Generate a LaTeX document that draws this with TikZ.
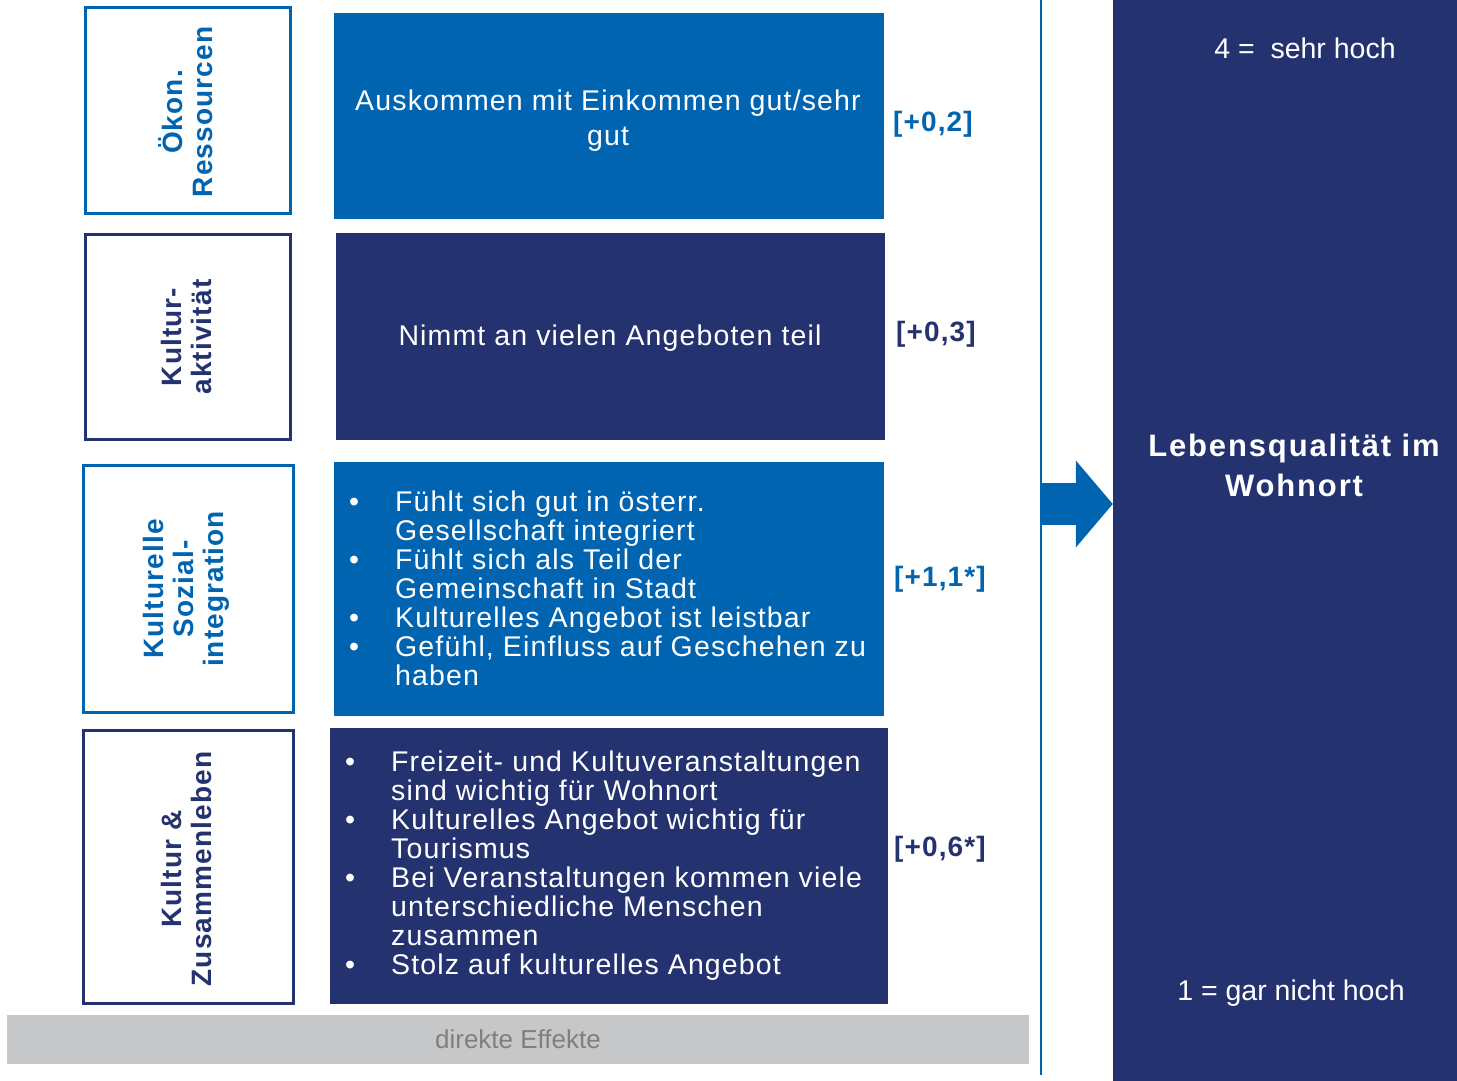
\documentclass[tikz,border=0pt]{standalone}
\usepackage{fontspec}
\setmainfont{Liberation Sans}[LetterSpace=4]
\newfontfamily\plainfont{Liberation Sans}
\usepackage{tikz}
\definecolor{mb}{RGB}{0, 100, 176}
\definecolor{nv}{RGB}{36, 51, 111}
\definecolor{gb}{RGB}{198, 199, 201}
\definecolor{gt}{RGB}{127, 127, 127}
\usetikzlibrary{arrows.meta}
\newcommand{\bul}{\makebox[46pt][l]{•}}
\newcommand{\ind}{\hspace*{46pt}}

\begin{document}
\begin{tikzpicture}[
  every node/.style={inner sep=0pt},
  frame/.style={rectangle, line width=3pt, fill=white},
  block/.style={rectangle, text=white, align=center, font=\fontsize{28.5pt}{35pt}\selectfont},
  vlabel/.style={rotate=90, align=center, font=\fontsize{28pt}{30pt}\selectfont\bfseries},
  effect/.style={font=\fontsize{28pt}{30pt}\selectfont\bfseries},
  items/.style={anchor=west, align=left, text=white, font=\fontsize{28.5pt}{29pt}\selectfont},
  side/.style={text=white, align=center, font=\plainfont\fontsize{28.5pt}{30pt}\selectfont}]
\useasboundingbox (0pt,0pt) rectangle (1457pt,-1081pt);
% left frames
\node (f1) [frame, draw=mb, minimum width=205pt, minimum height=206pt] at (188pt, -110.5pt) {};
\node (f2) [frame, draw=nv, minimum width=205pt, minimum height=205pt] at (188pt, -337pt) {};
\node (f3) [frame, draw=mb, minimum width=210pt, minimum height=247pt] at (188.5pt, -589pt) {};
\node (f4) [frame, draw=nv, minimum width=210pt, minimum height=273pt] at (188.5pt, -867pt) {};
\node (l1) [vlabel, text=mb] at (186pt, -112pt) {Ökon.\\Ressourcen};
\node (l2) [vlabel, text=nv] at (186pt, -337pt) {Kultur-\\aktivität};
\node (l3) [vlabel, text=mb] at (186pt, -589pt) {Kulturelle\\Sozial-\\integration};
\node (l4) [vlabel, text=nv] at (186pt, -869pt) {Kultur \&\\Zusammenleben};
% middle blocks
\node (m1) [block, fill=mb, minimum width=550pt, minimum height=206pt] at (609pt, -116pt) {};
\node (m2) [block, fill=nv, minimum width=549pt, minimum height=207pt] at (610.5pt, -336.5pt) {};
\node (m3) [block, fill=mb, minimum width=550pt, minimum height=254pt] at (609pt, -589pt) {};
\node (m4) [block, fill=nv, minimum width=558pt, minimum height=276pt] at (609pt, -866pt) {};
\node (t1) [block] at (608pt, -121pt) {Auskommen mit Einkommen gut/sehr\\gut};
\node (t2) [block] at (610pt, -338pt) {Nimmt an vielen Angeboten teil};
\node (t3) [items] at (349pt, -588pt) {\bul Fühlt sich gut in österr.\\
\ind Gesellschaft integriert\\
\bul Fühlt sich als Teil der\\
\ind Gemeinschaft in Stadt\\
\bul Kulturelles Angebot ist leistbar\\
\bul Gefühl, Einfluss auf Geschehen zu\\
\ind haben};
\node (t4) [items] at (345pt, -866pt) {\bul Freizeit- und Kultuveranstaltungen\\
\ind sind wichtig für Wohnort\\
\bul Kulturelles Angebot wichtig für\\
\ind Tourismus\\
\bul Bei Veranstaltungen kommen viele\\
\ind unterschiedliche Menschen\\
\ind zusammen\\
\bul Stolz auf kulturelles Angebot};
% effect sizes
\node (e1) [effect, text=mb] at (933pt, -124pt) {[+0,2]};
\node (e2) [effect, text=nv] at (936pt, -334pt) {[+0,3]};
\node (e3) [effect, text=mb] at (940pt, -579pt) {[+1,1*]};
\node (e4) [effect, text=nv] at (940pt, -849pt) {[+0,6*]};
% bottom bar
\node (bar) [fill=gb, minimum width=1022pt, minimum height=49pt, text=gt,
  font=\plainfont\fontsize{26pt}{28pt}\selectfont] at (518pt, -1039.5pt) {direkte Effekte};
% right panel
\node (panel) [fill=nv, minimum width=344pt, minimum height=1081pt] at (1285pt, -540.5pt) {};
\node (hi) [side] at (1305pt, -48pt) {4 =\ \ sehr hoch};
\node (lq) [side, font=\fontsize{31pt}{40pt}\selectfont\bfseries\addfontfeature{LetterSpace=6}] at (1294pt, -465pt) {Lebensqualität im\\Wohnort};
\node (lo) [side] at (1291pt, -993pt) {1 = gar nicht hoch};
% line and arrow
\coordinate (lt) at (1041pt, 0pt);
\coordinate (lb) at (1041pt, -1075pt);
\coordinate (a) at (1040pt, -504pt);
\draw [mb, line width=2.5pt] (lt) -- (lb);
\draw [mb, line width=42pt, -{Triangle[length=37pt, width=85pt]}] (a) -- (a -| panel.west);
\end{tikzpicture}
\end{document}
